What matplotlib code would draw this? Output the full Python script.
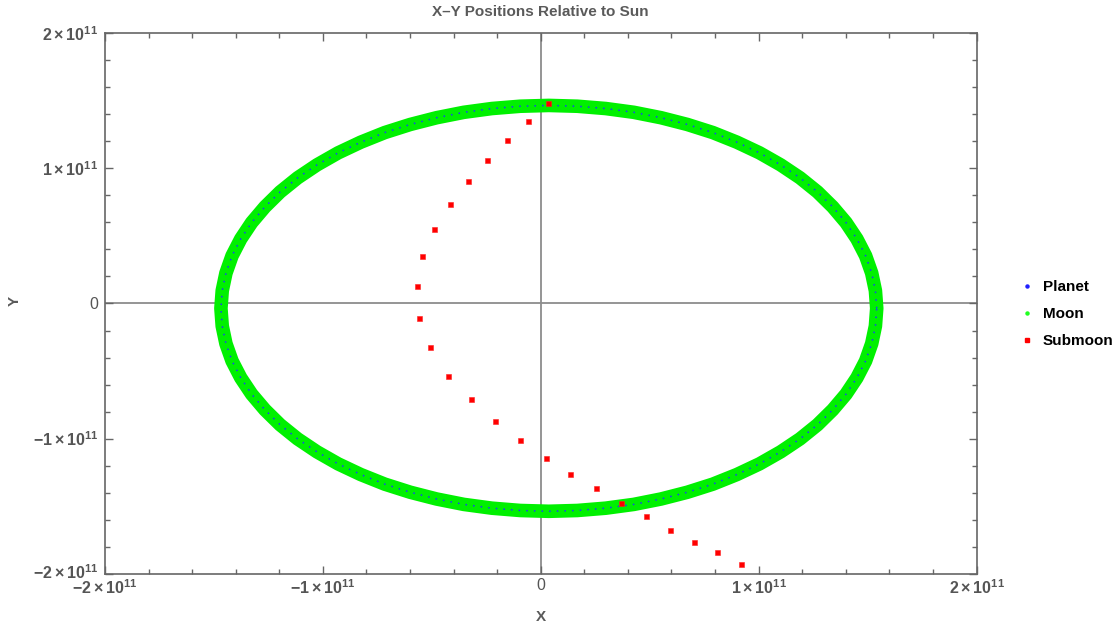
import matplotlib
matplotlib.use("Agg")
import matplotlib.pyplot as plt
from matplotlib.lines import Line2D
from matplotlib.patches import Polygon
from matplotlib.transforms import ScaledTranslation
from matplotlib.ticker import MultipleLocator, FixedLocator, FuncFormatter

plt.rcParams['font.family'] = ['Liberation Sans', 'DejaVu Sans']
plt.rcParams['mathtext.fontset'] = 'custom'
plt.rcParams['mathtext.rm'] = 'Liberation Sans:bold'
plt.rcParams['mathtext.it'] = 'Liberation Sans:bold'
plt.rcParams['mathtext.bf'] = 'Liberation Sans:bold'

SCALE = 1e11

# planet path around the sun (units of 1e11 m); the moon stays inside the band around it
orbit_x = [1.542, 1.536, 1.519, 1.491, 1.451, 1.401, 1.340, 1.270, 1.190, 1.101,
           1.004, 0.900, 0.790, 0.673, 0.552, 0.427, 0.298, 0.168,
           0.037, -0.094, -0.224, -0.353, -0.478, -0.599, -0.716, -0.826, -0.930,
           -1.027, -1.116, -1.196, -1.266, -1.327, -1.377, -1.417, -1.445, -1.462,
           -1.468, -1.462, -1.445, -1.417, -1.377, -1.327, -1.266, -1.196, -1.116,
           -1.027, -0.930, -0.826, -0.716, -0.599, -0.478, -0.353, -0.224, -0.094,
           0.037, 0.168, 0.298, 0.427, 0.552, 0.673, 0.790, 0.900, 1.004,
           1.101, 1.190, 1.270, 1.340, 1.401, 1.451, 1.491, 1.519, 1.536]
orbit_y = [-0.036, 0.095, 0.225, 0.353, 0.478, 0.599, 0.715, 0.826, 0.930, 1.026,
           1.115, 1.194, 1.265, 1.325, 1.375, 1.415, 1.443, 1.460,
           1.466, 1.460, 1.443, 1.415, 1.375, 1.325, 1.265, 1.194, 1.115,
           1.026, 0.930, 0.826, 0.715, 0.599, 0.478, 0.353, 0.225, 0.095,
           -0.036, -0.167, -0.297, -0.425, -0.550, -0.671, -0.787, -0.898, -1.002,
           -1.098, -1.187, -1.266, -1.337, -1.397, -1.447, -1.487, -1.515, -1.532,
           -1.538, -1.532, -1.515, -1.487, -1.447, -1.397, -1.337, -1.266, -1.187,
           -1.098, -1.002, -0.898, -0.787, -0.671, -0.550, -0.425, -0.297, -0.167]

# submoon samples (units of 1e11 m)
sub_x = [0.034, -0.058, -0.156, -0.246, -0.334, -0.418, -0.491, -0.546, -0.570,
         -0.559, -0.509, -0.424, -0.321, -0.210, -0.095, 0.022, 0.136, 0.252,
         0.369, 0.485, 0.593, 0.704, 0.808, 0.918]
sub_y = [1.487, 1.351, 1.213, 1.065, 0.910, 0.740, 0.555, 0.348, 0.131,
         -0.108, -0.325, -0.533, -0.707, -0.868, -1.013, -1.141, -1.260, -1.368,
         -1.476, -1.575, -1.674, -1.763, -1.842, -1.930]

tick_vals = [-2, -1, 0, 1, 2]

ox = [v * SCALE for v in orbit_x]
oy = [v * SCALE for v in orbit_y]
sx = [v * SCALE for v in sub_x]
sy = [v * SCALE for v in sub_y]

fig = plt.figure(figsize=(11.16, 6.29), dpi=100)
ax = fig.add_axes([0.0941, 0.0879, 0.7809, 0.8592])

ax.axhline(0, color='#8c8c8c', lw=1.3, zorder=1)
ax.axvline(0, color='#8c8c8c', lw=1.3, zorder=1)

# moon band (closed ring) and planet dots
band = Polygon(list(zip(ox, oy)), closed=True, fill=False, edgecolor='#00f000',
               lw=9.8, joinstyle='round', zorder=2)
ax.add_patch(band)
ax.plot(ox + ox[:1], oy + oy[:1], color='#1a3cff', lw=1.1, ls=(0, (1, 4)), zorder=3)
ax.plot(sx, sy, 's', color='#ff0000', ms=3.6, mec='#ff2020', mew=0.4, zorder=4)

ax.set_xlim(-2 * SCALE, 2 * SCALE)
ax.set_ylim(-2 * SCALE, 2 * SCALE)


def sci_label(v, pos):
    n = v / SCALE
    if abs(n) < 1e-9:
        return '0'
    k = int(round(n))
    sign = '-' if k < 0 else ''
    return r'$%s%d\times10^{11}$' % (sign, abs(k))


for axis in (ax.xaxis, ax.yaxis):
    axis.set_major_locator(FixedLocator([v * SCALE for v in tick_vals]))
    axis.set_minor_locator(MultipleLocator(0.2 * SCALE))
    axis.set_major_formatter(FuncFormatter(sci_label))

ax.tick_params(which='both', direction='in', top=True, right=True,
               color='#666666', width=1.0)
ax.tick_params(which='major', length=5.5, labelsize=11.5, labelcolor='#555555')
ax.tick_params(axis='x', which='major', pad=3)
ax.tick_params(axis='y', which='major', pad=5)
ax.tick_params(which='minor', length=3.5)
for s in ax.spines.values():
    s.set_color('#666666')
    s.set_linewidth(1.2)

# lift the lowest y label a little so it clears the first x label
fig.canvas.draw()
low = ax.yaxis.get_majorticklabels()[0]
low.set_transform(low.get_transform() + ScaledTranslation(0, 3 / 100, fig.dpi_scale_trans))

fig.text(0.4843, 1 - 12 / 629, 'X\u2013Y Positions Relative to Sun', ha='center',
         va='center', fontsize=11, fontweight='bold', color='#5a5a5a')
fig.text(540.5 / 1116, 1 - 617 / 629, 'X', ha='center', va='center',
         fontsize=11, fontweight='bold', color='#5a5a5a')
fig.text(15 / 1116, 1 - 301 / 629, 'Y', ha='center', va='center', rotation=90,
         fontsize=11, fontweight='bold', color='#5a5a5a')

handles = [
    Line2D([], [], ls='none', marker='o', ms=2.2, color='#2020ff'),
    Line2D([], [], ls='none', marker='o', ms=2.2, color='#20ff20'),
    Line2D([], [], ls='none', marker='s', ms=3.2, color='#ff0000'),
]
fig.legend(handles, ['Planet', 'Moon', 'Submoon'], loc='center left',
           bbox_to_anchor=(1009 / 1116, 1 - 314 / 629), frameon=False,
           handlelength=0.6, handletextpad=0.7, labelspacing=0.85,
           prop={'weight': 'bold', 'size': 11})

fig.savefig('out.png', dpi=100)
